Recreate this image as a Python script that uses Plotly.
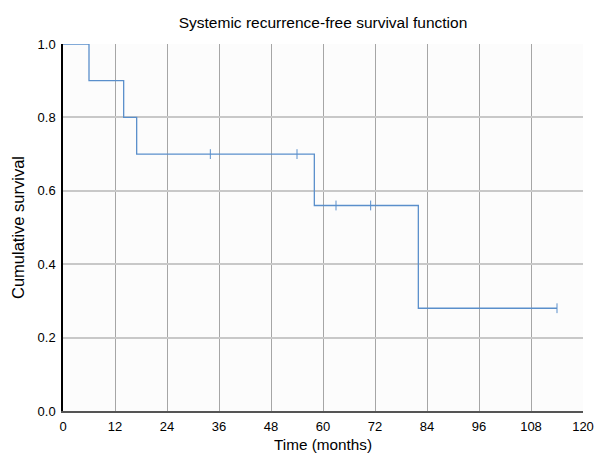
import plotly.graph_objects as go

# Kaplan-Meier step data
event_times = [0, 6, 14, 17, 58, 82, 114]
survival = [1.0, 0.9, 0.8, 0.7, 0.56, 0.28, 0.28]

# Censored observations
censor_times = [34, 54, 63, 71, 114]
censor_surv = [0.7, 0.7, 0.56, 0.56, 0.28]

x_ticks = [0, 12, 24, 36, 48, 60, 72, 84, 96, 108, 120]
y_ticks = [0.0, 0.2, 0.4, 0.6, 0.8, 1.0]

line_color = "#5a8fcb"

fig = go.Figure()
fig.add_trace(go.Scatter(
    x=event_times, y=survival, mode="lines", line_shape="hv",
    line=dict(color=line_color, width=1.3), showlegend=False, hoverinfo="skip"))
fig.add_trace(go.Scatter(
    x=censor_times, y=censor_surv, mode="markers",
    marker=dict(symbol="line-ns", size=7, line=dict(color=line_color, width=1)),
    showlegend=False, hoverinfo="skip"))

fig.update_layout(
    width=595, height=454,
    margin=dict(l=63, r=12, t=44, b=43),
    paper_bgcolor="white", plot_bgcolor="#fcfcfc",
    font=dict(family="Liberation Sans, Arial, sans-serif", size=13, color="black"),
    title=dict(text="Systemic recurrence-free survival function", x=0.5, xref="paper",
               xanchor="center", y=0.951, yanchor="middle", font=dict(size=15.5)),
    xaxis=dict(range=[0, 120], tickvals=x_ticks, ticktext=[str(v) for v in x_ticks],
               showgrid=True, gridcolor="#a6a6a6", gridwidth=1,
               showline=True, linecolor="#555555", linewidth=1.5, zeroline=False,
               ticks="outside", ticklen=3, tickcolor="rgba(0,0,0,0)", automargin=False,
               title=dict(text="Time (months)", font=dict(size=15.3), standoff=6)),
    yaxis=dict(range=[0, 1.0], tickvals=y_ticks, ticktext=[f"{v:.1f}" for v in y_ticks],
               showgrid=True, gridcolor="#c8c8c8", gridwidth=1.5,
               showline=True, linecolor="black", linewidth=1.5, zeroline=False,
               ticks="outside", ticklen=3, tickcolor="rgba(0,0,0,0)", automargin=False,
               title=dict(text="Cumulative survival", font=dict(size=16.5), standoff=9)),
)

fig.write_html("out.html")
